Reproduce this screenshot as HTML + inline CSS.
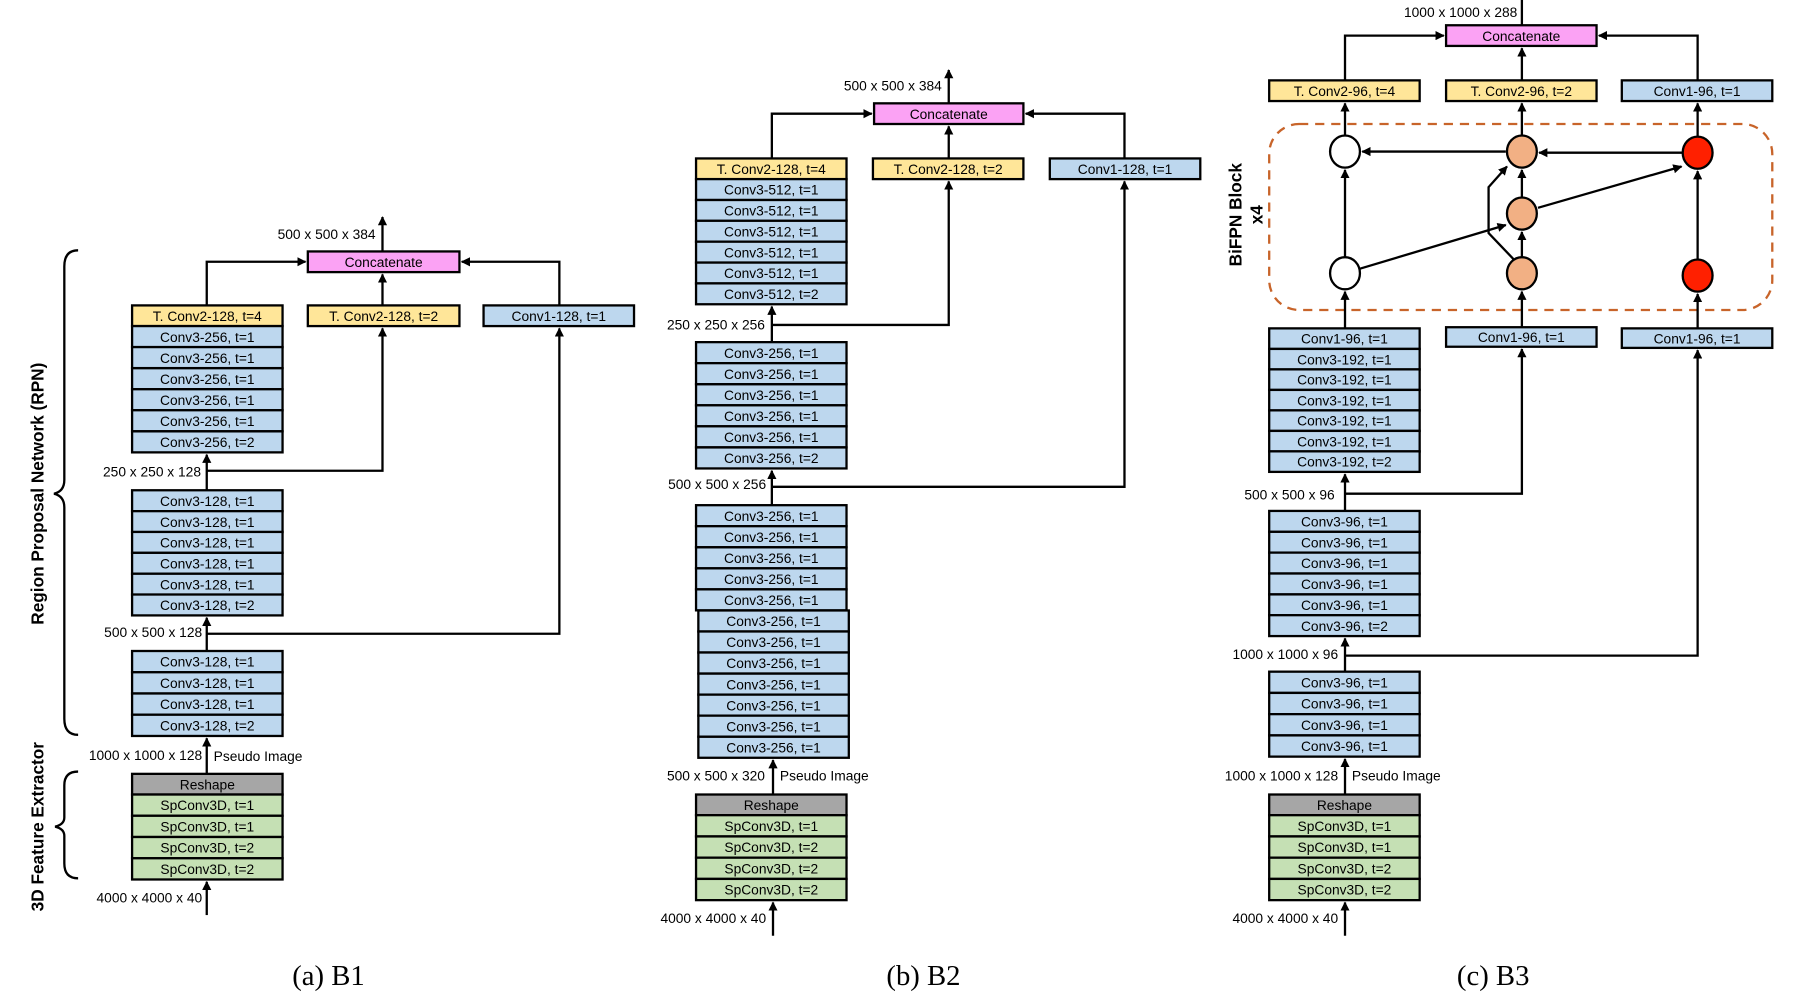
<!DOCTYPE html>
<html><head><meta charset="utf-8"><style>
html,body{margin:0;padding:0;background:#fff;}
svg{display:block;}
text{font-family:"Liberation Sans",Arial,sans-serif;font-size:12px;fill:#000;}
.c{text-anchor:middle;}
.r{text-anchor:end;}
.b{fill:#bdd7ee;stroke:#000;stroke-width:2;}
.y{fill:#ffe699;stroke:#000;stroke-width:2;}
.g{fill:#c5e0b4;stroke:#000;stroke-width:2;}
.gr{fill:#a6a6a6;stroke:#000;stroke-width:2;}
.p{fill:#fba2f4;stroke:#000;stroke-width:2;}
.l{fill:none;stroke:#000;stroke-width:2;}
.cap{font-family:"Liberation Serif",serif;font-size:25px;}
.lab{font-weight:bold;font-size:15px;}
</style></head><body>
<svg width="1801" height="992" viewBox="0 0 1568 864" preserveAspectRatio="none" xmlns="http://www.w3.org/2000/svg">
<defs><marker id="a" viewBox="0 0 10 10" refX="9" refY="5" markerWidth="4" markerHeight="4" orient="auto"><path d="M0,0L10,5L0,10z" fill="#000"/></marker></defs>

<!-- ===== Column A ===== -->
<g>
<rect class="p" x="268" y="219" width="132" height="18"/><text class="c" x="334" y="232.5">Concatenate</text>
<path class="l" d="M333,219V189" marker-end="url(#a)"/><text class="r" x="327" y="208">500 x 500 x 384</text>
<path class="l" d="M180,266V228H266" marker-end="url(#a)"/>
<path class="l" d="M487,266V228H402" marker-end="url(#a)"/>
<path class="l" d="M333,266V239" marker-end="url(#a)"/>
<rect class="y" x="115" y="266" width="131" height="18"/><text class="c" x="180.5" y="279.5">T. Conv2-128, t=4</text>
<rect class="y" x="268" y="266" width="132" height="18"/><text class="c" x="334" y="279.5">T. Conv2-128, t=2</text>
<rect class="b" x="421" y="266" width="131" height="18"/><text class="c" x="486.5" y="279.5">Conv1-128, t=1</text>
<rect class="b" x="115" y="284" width="131" height="18.3"/><text class="c" x="180.5" y="297.7">Conv3-256, t=1</text>
<rect class="b" x="115" y="302.3" width="131" height="18.3"/><text class="c" x="180.5" y="316">Conv3-256, t=1</text>
<rect class="b" x="115" y="320.7" width="131" height="18.3"/><text class="c" x="180.5" y="334.4">Conv3-256, t=1</text>
<rect class="b" x="115" y="339" width="131" height="18.3"/><text class="c" x="180.5" y="352.7">Conv3-256, t=1</text>
<rect class="b" x="115" y="357.3" width="131" height="18.3"/><text class="c" x="180.5" y="371">Conv3-256, t=1</text>
<rect class="b" x="115" y="375.7" width="131" height="18.3"/><text class="c" x="180.5" y="389.4">Conv3-256, t=2</text>
<path class="l" d="M180,427V396" marker-end="url(#a)"/>
<path class="l" d="M180,410H333V286" marker-end="url(#a)"/>
<text class="r" x="175" y="415">250 x 250 x 128</text>
<rect class="b" x="115" y="427" width="131" height="18.2"/><text class="c" x="180.5" y="440.6">Conv3-128, t=1</text>
<rect class="b" x="115" y="445.2" width="131" height="18.2"/><text class="c" x="180.5" y="458.8">Conv3-128, t=1</text>
<rect class="b" x="115" y="463.3" width="131" height="18.2"/><text class="c" x="180.5" y="476.9">Conv3-128, t=1</text>
<rect class="b" x="115" y="481.5" width="131" height="18.2"/><text class="c" x="180.5" y="495.1">Conv3-128, t=1</text>
<rect class="b" x="115" y="499.7" width="131" height="18.2"/><text class="c" x="180.5" y="513.3">Conv3-128, t=1</text>
<rect class="b" x="115" y="517.8" width="131" height="18.2"/><text class="c" x="180.5" y="531.4">Conv3-128, t=2</text>
<path class="l" d="M180,567V538" marker-end="url(#a)"/>
<path class="l" d="M180,552H487V286" marker-end="url(#a)"/>
<text class="r" x="176" y="555">500 x 500 x 128</text>
<rect class="b" x="115" y="567" width="131" height="18.5"/><text class="c" x="180.5" y="580.7">Conv3-128, t=1</text>
<rect class="b" x="115" y="585.5" width="131" height="18.5"/><text class="c" x="180.5" y="599.2">Conv3-128, t=1</text>
<rect class="b" x="115" y="604" width="131" height="18.5"/><text class="c" x="180.5" y="617.7">Conv3-128, t=1</text>
<rect class="b" x="115" y="622.5" width="131" height="18.5"/><text class="c" x="180.5" y="636.2">Conv3-128, t=2</text>
<path class="l" d="M180,674V643" marker-end="url(#a)"/>
<text class="r" x="176" y="662">1000 x 1000 x 128</text><text x="186" y="663">Pseudo Image</text>
<rect class="gr" x="115" y="674" width="131" height="18"/><text class="c" x="180.5" y="687.5">Reshape</text>
<rect class="g" x="115" y="692" width="131" height="18.5"/><text class="c" x="180.5" y="705.7">SpConv3D, t=1</text>
<rect class="g" x="115" y="710.5" width="131" height="18.5"/><text class="c" x="180.5" y="724.2">SpConv3D, t=1</text>
<rect class="g" x="115" y="729" width="131" height="18.5"/><text class="c" x="180.5" y="742.7">SpConv3D, t=2</text>
<rect class="g" x="115" y="747.5" width="131" height="18.5"/><text class="c" x="180.5" y="761.2">SpConv3D, t=2</text>
<path class="l" d="M180,797V768" marker-end="url(#a)"/>
<text class="r" x="176" y="786">4000 x 4000 x 40</text>
<path class="l" d="M68,218Q56,218 56,232V418Q56,428 47,430Q56,432 56,442V626Q56,640 68,640"/>
<path class="l" d="M68,672Q56,672 56,684V712Q56,718 48,720Q56,722 56,728V752Q56,765 68,765"/>
<text class="c lab" transform="translate(38,430) rotate(-90)">Region Proposal Network (RPN)</text>
<text class="c lab" transform="translate(38,720) rotate(-90)">3D Feature Extractor</text>
<text class="c cap" x="286" y="858">(a) B1</text>
</g>

<!-- ===== Column B ===== -->
<g>
<rect class="p" x="761" y="90" width="130" height="18"/><text class="c" x="826" y="103.5">Concatenate</text>
<path class="l" d="M826,90V61" marker-end="url(#a)"/><text class="r" x="820" y="79">500 x 500 x 384</text>
<path class="l" d="M672,138V99H759" marker-end="url(#a)"/>
<path class="l" d="M979,138V99H893" marker-end="url(#a)"/>
<path class="l" d="M826,138V110" marker-end="url(#a)"/>
<rect class="y" x="606" y="138" width="131" height="18"/><text class="c" x="671.5" y="151.5">T. Conv2-128, t=4</text>
<rect class="y" x="760" y="138" width="131" height="18"/><text class="c" x="825.5" y="151.5">T. Conv2-128, t=2</text>
<rect class="b" x="914" y="138" width="131" height="18"/><text class="c" x="979.5" y="151.5">Conv1-128, t=1</text>
<rect class="b" x="606" y="156" width="131" height="18.2"/><text class="c" x="671.5" y="169.6">Conv3-512, t=1</text>
<rect class="b" x="606" y="174.2" width="131" height="18.2"/><text class="c" x="671.5" y="187.8">Conv3-512, t=1</text>
<rect class="b" x="606" y="192.3" width="131" height="18.2"/><text class="c" x="671.5" y="205.9">Conv3-512, t=1</text>
<rect class="b" x="606" y="210.5" width="131" height="18.2"/><text class="c" x="671.5" y="224.1">Conv3-512, t=1</text>
<rect class="b" x="606" y="228.7" width="131" height="18.2"/><text class="c" x="671.5" y="242.3">Conv3-512, t=1</text>
<rect class="b" x="606" y="246.8" width="131" height="18.2"/><text class="c" x="671.5" y="260.4">Conv3-512, t=2</text>
<path class="l" d="M672,298V267" marker-end="url(#a)"/>
<path class="l" d="M672,283H826V158" marker-end="url(#a)"/>
<text class="r" x="666" y="287">250 x 250 x 256</text>
<rect class="b" x="606" y="298" width="131" height="18.3"/><text class="c" x="671.5" y="311.7">Conv3-256, t=1</text>
<rect class="b" x="606" y="316.3" width="131" height="18.3"/><text class="c" x="671.5" y="330">Conv3-256, t=1</text>
<rect class="b" x="606" y="334.7" width="131" height="18.3"/><text class="c" x="671.5" y="348.4">Conv3-256, t=1</text>
<rect class="b" x="606" y="353" width="131" height="18.3"/><text class="c" x="671.5" y="366.7">Conv3-256, t=1</text>
<rect class="b" x="606" y="371.3" width="131" height="18.3"/><text class="c" x="671.5" y="385">Conv3-256, t=1</text>
<rect class="b" x="606" y="389.7" width="131" height="18.3"/><text class="c" x="671.5" y="403.4">Conv3-256, t=2</text>
<path class="l" d="M672,440V410" marker-end="url(#a)"/>
<path class="l" d="M672,424H979V158" marker-end="url(#a)"/>
<text class="r" x="667" y="426">500 x 500 x 256</text>
<rect class="b" x="606" y="440" width="131" height="18.3"/><text class="c" x="671.5" y="453.7">Conv3-256, t=1</text>
<rect class="b" x="606" y="458.3" width="131" height="18.3"/><text class="c" x="671.5" y="472">Conv3-256, t=1</text>
<rect class="b" x="606" y="476.7" width="131" height="18.3"/><text class="c" x="671.5" y="490.4">Conv3-256, t=1</text>
<rect class="b" x="606" y="495" width="131" height="18.3"/><text class="c" x="671.5" y="508.7">Conv3-256, t=1</text>
<rect class="b" x="606" y="513.3" width="131" height="18.3"/><text class="c" x="671.5" y="527">Conv3-256, t=1</text>
<rect class="b" x="608" y="531.7" width="131" height="18.3"/><text class="c" x="673.5" y="545.4">Conv3-256, t=1</text>
<rect class="b" x="608" y="550" width="131" height="18.3"/><text class="c" x="673.5" y="563.7">Conv3-256, t=1</text>
<rect class="b" x="608" y="568.3" width="131" height="18.3"/><text class="c" x="673.5" y="582">Conv3-256, t=1</text>
<rect class="b" x="608" y="586.7" width="131" height="18.3"/><text class="c" x="673.5" y="600.4">Conv3-256, t=1</text>
<rect class="b" x="608" y="605" width="131" height="18.3"/><text class="c" x="673.5" y="618.7">Conv3-256, t=1</text>
<rect class="b" x="608" y="623.3" width="131" height="18.3"/><text class="c" x="673.5" y="637">Conv3-256, t=1</text>
<rect class="b" x="608" y="641.7" width="131" height="18.3"/><text class="c" x="673.5" y="655.4">Conv3-256, t=1</text>
<path class="l" d="M673,692V662" marker-end="url(#a)"/>
<text class="r" x="666" y="680">500 x 500 x 320</text><text x="679" y="680">Pseudo Image</text>
<rect class="gr" x="606" y="692" width="131" height="18"/><text class="c" x="671.5" y="705.5">Reshape</text>
<rect class="g" x="606" y="710" width="131" height="18.5"/><text class="c" x="671.5" y="723.7">SpConv3D, t=1</text>
<rect class="g" x="606" y="728.5" width="131" height="18.5"/><text class="c" x="671.5" y="742.2">SpConv3D, t=2</text>
<rect class="g" x="606" y="747" width="131" height="18.5"/><text class="c" x="671.5" y="760.7">SpConv3D, t=2</text>
<rect class="g" x="606" y="765.5" width="131" height="18.5"/><text class="c" x="671.5" y="779.2">SpConv3D, t=2</text>
<path class="l" d="M673,815V786" marker-end="url(#a)"/>
<text class="r" x="667" y="804">4000 x 4000 x 40</text>
<text class="c cap" x="804" y="858">(b) B2</text>
</g>

<!-- ===== Column C ===== -->
<g>
<path class="l" d="M1325,22V0"/>
<rect class="p" x="1259" y="22" width="131" height="18"/><text class="c" x="1324.5" y="35.5">Concatenate</text>
<text class="r" x="1321" y="15">1000 x 1000 x 288</text>
<path class="l" d="M1171,70V31H1257" marker-end="url(#a)"/>
<path class="l" d="M1478,70V31H1392" marker-end="url(#a)"/>
<path class="l" d="M1325,70V42" marker-end="url(#a)"/>
<rect class="y" x="1105" y="70" width="131" height="18"/><text class="c" x="1170.5" y="83.5">T. Conv2-96, t=4</text>
<rect class="y" x="1259" y="70" width="131" height="18"/><text class="c" x="1324.5" y="83.5">T. Conv2-96, t=2</text>
<rect class="b" x="1412" y="70" width="131" height="18"/><text class="c" x="1477.5" y="83.5">Conv1-96, t=1</text>
<rect x="1105" y="108" width="438" height="162" rx="26" fill="none" stroke="#c8642a" stroke-width="2" stroke-dasharray="8,6"/>
<text class="c lab" transform="translate(1081,187) rotate(-90)">BiFPN Block</text>
<text class="c lab" transform="translate(1099,187) rotate(-90)">x4</text>
<path class="l" d="M1171,118V90" marker-end="url(#a)"/>
<path class="l" d="M1325,118V90" marker-end="url(#a)"/>
<path class="l" d="M1478,119V90" marker-end="url(#a)"/>
<path class="l" d="M1465,133H1340" marker-end="url(#a)"/>
<path class="l" d="M1311,132H1186" marker-end="url(#a)"/>
<path class="l" d="M1171,224V148" marker-end="url(#a)"/>
<path class="l" d="M1184,234L1311,196" marker-end="url(#a)"/>
<path class="l" d="M1339,181L1464,145" marker-end="url(#a)"/>
<path class="l" d="M1325,224V202" marker-end="url(#a)"/>
<path class="l" d="M1325,172V148" marker-end="url(#a)"/>
<path class="l" d="M1318,226L1296,203V163L1312,145" marker-end="url(#a)"/>
<path class="l" d="M1478,226V149" marker-end="url(#a)"/>
<ellipse cx="1171" cy="132" rx="13" ry="14" fill="#fff" stroke="#000" stroke-width="2"/>
<ellipse cx="1171" cy="238" rx="13" ry="14" fill="#fff" stroke="#000" stroke-width="2"/>
<ellipse cx="1325" cy="132" rx="13" ry="14" fill="#f2b084" stroke="#000" stroke-width="2"/>
<ellipse cx="1325" cy="186" rx="13" ry="14" fill="#f2b084" stroke="#000" stroke-width="2"/>
<ellipse cx="1325" cy="238" rx="13" ry="14" fill="#f2b084" stroke="#000" stroke-width="2"/>
<ellipse cx="1478" cy="133" rx="13" ry="14" fill="#ff2000" stroke="#000" stroke-width="2"/>
<ellipse cx="1478" cy="240" rx="13" ry="14" fill="#ff2000" stroke="#000" stroke-width="2"/>
<path class="l" d="M1171,286V254" marker-end="url(#a)"/>
<path class="l" d="M1325,285V254" marker-end="url(#a)"/>
<path class="l" d="M1478,286V256" marker-end="url(#a)"/>
<rect class="b" x="1105" y="286" width="131" height="17.9"/><text class="c" x="1170.5" y="299.4">Conv1-96, t=1</text>
<rect class="b" x="1105" y="303.9" width="131" height="17.9"/><text class="c" x="1170.5" y="317.3">Conv3-192, t=1</text>
<rect class="b" x="1105" y="321.7" width="131" height="17.9"/><text class="c" x="1170.5" y="335.1">Conv3-192, t=1</text>
<rect class="b" x="1105" y="339.6" width="131" height="17.9"/><text class="c" x="1170.5" y="353">Conv3-192, t=1</text>
<rect class="b" x="1105" y="357.4" width="131" height="17.9"/><text class="c" x="1170.5" y="370.8">Conv3-192, t=1</text>
<rect class="b" x="1105" y="375.3" width="131" height="17.9"/><text class="c" x="1170.5" y="388.7">Conv3-192, t=1</text>
<rect class="b" x="1105" y="393.1" width="131" height="17.9"/><text class="c" x="1170.5" y="406.5">Conv3-192, t=2</text>
<rect class="b" x="1259" y="285" width="131" height="17"/><text class="c" x="1324.5" y="298">Conv1-96, t=1</text>
<rect class="b" x="1412" y="286" width="131" height="17"/><text class="c" x="1477.5" y="299">Conv1-96, t=1</text>
<path class="l" d="M1171,445V413" marker-end="url(#a)"/>
<path class="l" d="M1171,430H1325V304" marker-end="url(#a)"/>
<text class="r" x="1162" y="435">500 x 500 x 96</text>
<rect class="b" x="1105" y="445" width="131" height="18.2"/><text class="c" x="1170.5" y="458.6">Conv3-96, t=1</text>
<rect class="b" x="1105" y="463.2" width="131" height="18.2"/><text class="c" x="1170.5" y="476.8">Conv3-96, t=1</text>
<rect class="b" x="1105" y="481.3" width="131" height="18.2"/><text class="c" x="1170.5" y="494.9">Conv3-96, t=1</text>
<rect class="b" x="1105" y="499.5" width="131" height="18.2"/><text class="c" x="1170.5" y="513.1">Conv3-96, t=1</text>
<rect class="b" x="1105" y="517.7" width="131" height="18.2"/><text class="c" x="1170.5" y="531.3">Conv3-96, t=1</text>
<rect class="b" x="1105" y="535.8" width="131" height="18.2"/><text class="c" x="1170.5" y="549.4">Conv3-96, t=2</text>
<path class="l" d="M1171,585V556" marker-end="url(#a)"/>
<path class="l" d="M1171,571H1478V305" marker-end="url(#a)"/>
<text class="r" x="1165" y="574">1000 x 1000 x 96</text>
<rect class="b" x="1105" y="585" width="131" height="18.5"/><text class="c" x="1170.5" y="598.7">Conv3-96, t=1</text>
<rect class="b" x="1105" y="603.5" width="131" height="18.5"/><text class="c" x="1170.5" y="617.2">Conv3-96, t=1</text>
<rect class="b" x="1105" y="622" width="131" height="18.5"/><text class="c" x="1170.5" y="635.7">Conv3-96, t=1</text>
<rect class="b" x="1105" y="640.5" width="131" height="18.5"/><text class="c" x="1170.5" y="654.2">Conv3-96, t=1</text>
<path class="l" d="M1171,692V661" marker-end="url(#a)"/>
<text class="r" x="1165" y="680">1000 x 1000 x 128</text><text x="1177" y="680">Pseudo Image</text>
<rect class="gr" x="1105" y="692" width="131" height="18"/><text class="c" x="1170.5" y="705.5">Reshape</text>
<rect class="g" x="1105" y="710" width="131" height="18.5"/><text class="c" x="1170.5" y="723.7">SpConv3D, t=1</text>
<rect class="g" x="1105" y="728.5" width="131" height="18.5"/><text class="c" x="1170.5" y="742.2">SpConv3D, t=1</text>
<rect class="g" x="1105" y="747" width="131" height="18.5"/><text class="c" x="1170.5" y="760.7">SpConv3D, t=2</text>
<rect class="g" x="1105" y="765.5" width="131" height="18.5"/><text class="c" x="1170.5" y="779.2">SpConv3D, t=2</text>
<path class="l" d="M1171,815V786" marker-end="url(#a)"/>
<text class="r" x="1165" y="804">4000 x 4000 x 40</text>
<text class="c cap" x="1300" y="858">(c) B3</text>
</g>
</svg>
</body></html>
